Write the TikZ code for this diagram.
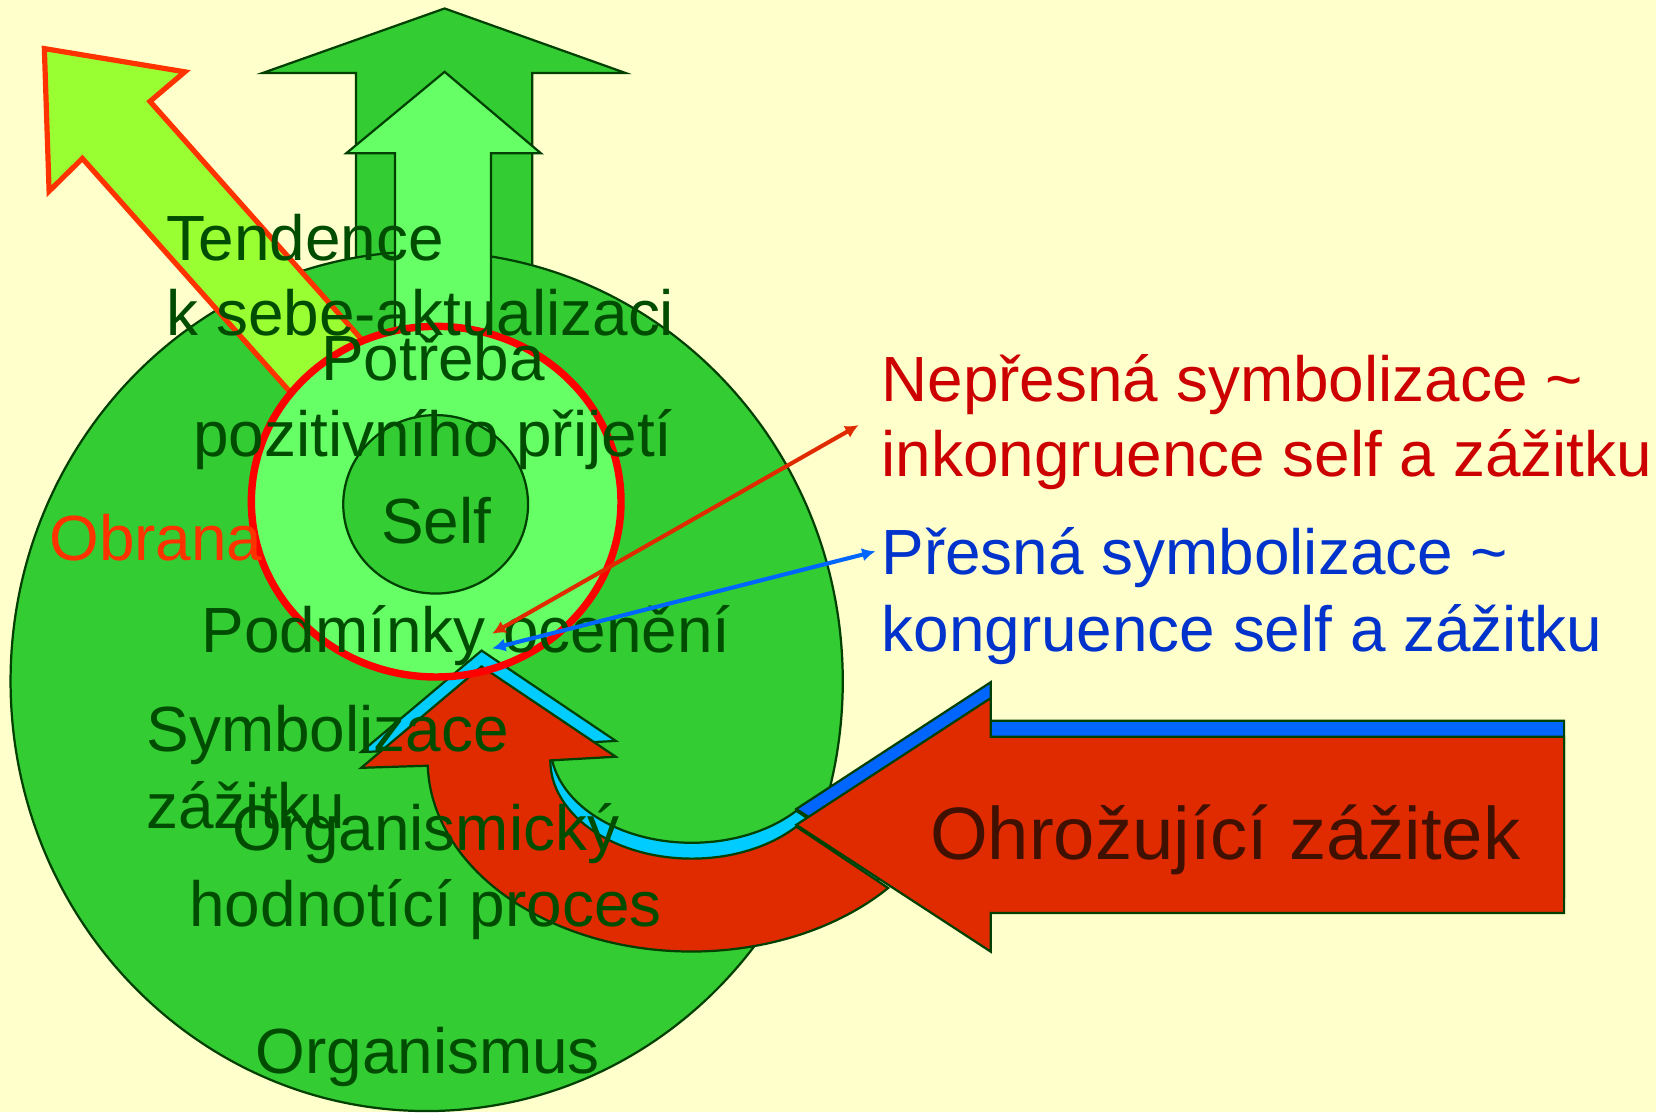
\documentclass[tikz,border=0pt]{standalone}
\usepackage{fontspec}
\setmainfont{Liberation Sans}
\usetikzlibrary{arrows.meta}

\definecolor{bgyellow}{HTML}{FFFFCC}
\definecolor{orggreen}{HTML}{33CC33}
\definecolor{lightgreen}{HTML}{66FF66}
\definecolor{limegreen}{HTML}{99FF33}
\definecolor{edgegreen}{HTML}{004000}
\definecolor{txtgreen}{HTML}{004C00}
\definecolor{arrowred}{HTML}{E02A00}
\definecolor{tendred}{HTML}{FF3300}
\definecolor{bandcyan}{HTML}{00CCFF}
\definecolor{bandblue}{HTML}{0066FF}
\definecolor{nepred}{HTML}{CC0000}
\definecolor{presblue}{HTML}{0033CC}
\definecolor{ohrbrown}{HTML}{401000}

% curved (U-turn) arrow and the straight arrow
\newcommand{\bentpath}{(405,725) arc[start angle=178.4, end angle=41.9, x radius=250, y radius=181] -- (754,782.7) arc[start angle=42.4, end angle=180, x radius=134, y radius=93] -- (583,716.5) -- (456,631) -- (342,727) -- cycle}
\newcommand{\straightpath}{(754,781) -- (938,661) -- (938,697.5) -- (1481,697.5) -- (1481,864.5) -- (938,864.5) -- (938,901) -- cycle}

\begin{document}
\begin{tikzpicture}[x=0.01cm, y=-0.01cm, line join=miter,
    outlined/.style={draw=edgegreen, line width=0.6pt},
    lbl/.style={font=\fontsize{17.2}{20.4}\selectfont, text=txtgreen, inner sep=0pt},
    thinarrow/.style={line width=1.1pt, {Latex[length=3.6pt,width=3.6pt]}-{Latex[length=3.6pt,width=3.6pt]}}]
  \fill[bgyellow] (0,0) rectangle (1568,1053);
  \clip (0,0) rectangle (1568,1053);

  %back arrow
  \draw[outlined, fill=orggreen] (421,8) -- (592,69) -- (504,69) -- (504,300) -- (337,300) -- (337,69) -- (249,69) -- cycle;
  %organismus
  \draw[outlined, fill=orggreen] (404,645) ellipse [x radius=394, y radius=407];
  %potreba arrow
  \draw[outlined, fill=lightgreen] (421,68) -- (512,145) -- (465,145) -- (465,400) -- (374,400) -- (374,145) -- (328,145) -- cycle;
  %tendence arrow
  \draw[tendred, line width=1.4pt, fill=limegreen] (42,46) -- (175,68) -- (142,96) -- (359,340) -- (295,394) -- (78,150) -- (46.5,181) -- cycle;

  \fill[lightgreen] (413,475) ellipse [x radius=175, y radius=166];
  \draw[outlined, fill=orggreen] (412.5,477.5) ellipse [x radius=87.5, y radius=84.5];

  %3d bands
  \draw[outlined, fill=bandcyan, shift={(0,-15)}] \bentpath;
  \draw[outlined, fill=bandblue, shift={(0,-15)}] \straightpath;
  %threatening experience
  \draw[outlined, fill=arrowred] \bentpath;
  \draw[outlined, fill=arrowred] \straightpath;

  \draw[red, line width=2pt] (413,475) ellipse [x radius=175, y radius=166];

  \node[lbl, anchor=base west] (tend1) at (157,247) {Tendence};
  \node[lbl, anchor=base west] (tend2) at (157,318) {k sebe-aktualizaci};
  \node[lbl, anchor=base] (potr1) at (410,360) {Potřeba};
  \node[lbl, anchor=base] (potr2) at (410,432) {pozitivního přijetí};
  \node[lbl, anchor=base] (self) at (413,515) {Self};
  \node[lbl, text=tendred, anchor=base west] (obrana) at (46,531) {Obrana};
  \node[lbl, anchor=base west] (podm) at (190,618) {Podmínky ocenění};
  \node[lbl, anchor=base west] (symb1) at (138,712) {Symbolizace};
  \node[lbl, anchor=base west] (symb2) at (138,784) {zážitku};
  \node[lbl, anchor=base] (ohp1) at (403,805) {Organismický};
  \node[lbl, anchor=base] (ohp2) at (403,877) {hodnotící proces};
  \node[lbl, anchor=base] (org) at (405,1016) {Organismus};

  \node[lbl, text=nepred, anchor=base west] (nep1) at (834,380) {Nepřesná symbolizace \textasciitilde};
  \node[lbl, text=nepred, anchor=base west] (nep2) at (834,451) {inkongruence self a zážitku};
  \node[lbl, text=presblue, anchor=base west] (pres1) at (834,544) {Přesná symbolizace \textasciitilde};
  \node[lbl, text=presblue, anchor=base west] (pres2) at (834,617) {kongruence self a zážitku};
  \node[lbl, font=\fontsize{20}{24}\selectfont, text=ohrbrown, anchor=base west] (ohr) at (880,814) {Ohrožující zážitek};

  \coordinate (nepstart) at (466,600);
  \coordinate (nepend) at (813,402.5);
  \coordinate (presstart) at (466,614);
  \coordinate (presend) at (829,522);
  \draw[thinarrow, arrowred] (nepstart) -- (nepend);
  \draw[thinarrow, bandblue] (presstart) -- (presend);
\end{tikzpicture}
\end{document}
